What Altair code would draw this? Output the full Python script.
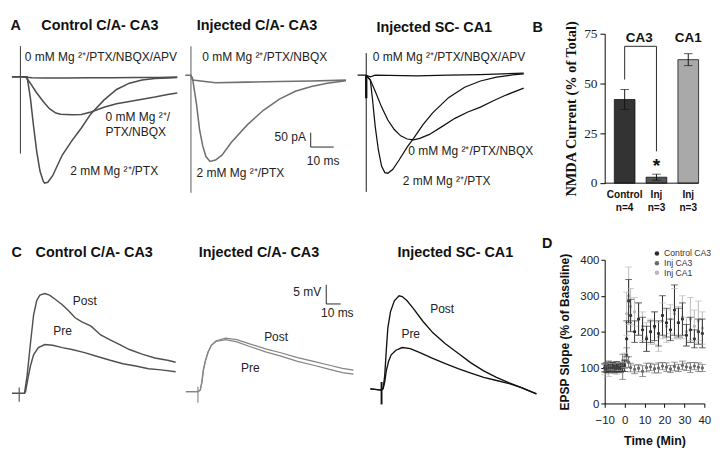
import altair as alt
import pandas as pd

SANS = "'Liberation Sans', Arial, sans-serif"
SERIF = "'Liberation Serif', 'Times New Roman', serif"

# ---------------- Panel A traces (time in ms, current in pA) ----------------
A1_2MG_T = [-3.7, 0, 2.9, 4.3, 5.7, 7.1, 8.5, 9.9, 10.5, 11.9, 14.0, 18.2, 22.4, 26.5, 30.7, 36.3, 41.8, 47.4, 52.9, 58.5, 64.0, 68.2]
A1_2MG_V = [0, 0, 0, -72, -172, -261, -328, -363, -370, -367, -344, -272, -222, -178, -128, -81, -44, -22, -11, -6, -4, -2]
A1_NBQX_T = [-3.7, 0, 2.2, 4.3, 7.1, 9.9, 12.6, 15.4, 17.5, 22.4, 26.5, 30.7, 36.3, 41.8, 47.4, 52.9, 58.5, 64.0, 68.2]
A1_NBQX_V = [0, 0, 0, -22, -56, -86, -111, -126, -130, -132, -131, -122, -106, -94, -86, -78, -70, -61, -56]
A1_APV_T = [-3.7, 0, 5, 10, 20, 30, 40, 50, 60, 68.2]
A1_APV_V = [0, 0, -3, -4, -4, -3, -3, -2, -2, -1]

A2_2MG_T = [-2.5, 0, 0.7, 2.4, 3.75, 5.1, 6.5, 8.3, 10.7, 13.5, 17.6, 24.6, 31.5, 38.5, 45.4, 52.4, 59.3, 67.4]
A2_2MG_V = [0, 0, -11, -100, -189, -245, -283, -300, -295, -278, -233, -172, -122, -83, -56, -39, -28, -19]
A2_NBQX_T = [0, 0.7, 10.7, 24.6, 38.5, 52.4, 67.4]
A2_NBQX_V = [0, -17, -26, -24, -22, -20, -17]

A3_2MG_T = [-3.75, 0, 1.8, 2.8, 3.9, 5.3, 6.7, 8.1, 9.4, 11.5, 14.3, 17.8, 20.6, 24.7, 28.9, 35.8, 42.8, 49.7, 56.7, 63.6, 68.5]
A3_2MG_V = [0, 0, -17, -89, -178, -261, -317, -339, -341, -328, -295, -250, -220, -172, -131, -78, -42, -20, -7, 1, 5]
A3_NBQX_T = [0, 1.8, 3.9, 6.7, 9.4, 12.2, 15, 17.8, 20.6, 23.3, 27.5, 33.1, 38.6, 44.2, 49.7, 55.3, 60.8, 68.5]
A3_NBQX_V = [0, -17, -56, -111, -156, -189, -211, -222, -225, -220, -206, -178, -150, -128, -111, -89, -69, -45]
A3_APV_T = [0, 1.8, 3.9, 22, 35.8, 49.7, 68.5]
A3_APV_V = [0, -6, 0, -2, 0, 2, 7]

# ---------------- Panel C traces (time in ms, potential in mV) ----------------
C1_POST_T = [-5, 3.7, 5.5, 7.8, 10, 12.2, 14.4, 17.8, 21.1, 25.5, 30, 34.4, 38.9, 43.3, 50, 56.7, 63.3, 70, 76.7, 85.5, 94.4, 103.3, 108.9]
C1_POST_V = [0, 0, 4.6, 12.9, 20.4, 24.2, 25.6, 26, 25.6, 24.4, 23.1, 21.5, 19.7, 18.7, 17.5, 15.2, 13.9, 12.7, 11.4, 10.2, 9.2, 8.6, 8.1]
C1_PRE_T = [3.7, 4.4, 6, 7.8, 10, 13.3, 17.8, 23.3, 30, 36.7, 45.5, 54.4, 63.3, 72.2, 81.1, 90, 98.9, 108.9]
C1_PRE_V = [0, 0.4, 3.7, 7.1, 10, 11.9, 12.7, 12.5, 11.9, 11.4, 10.6, 9.6, 8.6, 7.7, 7.1, 6.4, 6.1, 5.6]

C2_T = [-8.4, 0, 1.6, 2.7, 3.8, 5.3, 7.1, 9.3, 12.7, 19.3, 27.1, 36, 47.1, 58.3, 69.3, 80.5, 91.6, 100.5, 108.3]
C2_PRE_V = [0, 0, 0.4, 2.5, 5.8, 8.3, 10.4, 12.1, 13.1, 13.6, 13.0, 11.8, 10.4, 9.2, 7.9, 6.9, 5.8, 5.0, 4.6]
C2_POST_V = [0, 0, 0.4, 2.3, 5.5, 8.1, 10.3, 12.1, 13.3, 14.0, 13.6, 12.5, 11.2, 10.1, 8.9, 7.9, 6.9, 6.1, 5.6]

C3_POST_T = [-7.8, 0, 1.1, 2.2, 3.3, 4.4, 6.2, 8.9, 12.2, 14.4, 17.8, 22.2, 28.9, 35.6, 44.4, 53.3, 62.2, 71.1, 80, 88.9, 97.8, 107.8]
C3_POST_V = [0.3, 0, 0.4, 3.75, 10.4, 16.25, 20.4, 23.3, 24.6, 24.4, 23.3, 21.25, 17.9, 15, 12.1, 9.6, 7.1, 5, 3.3, 1.9, 0.6, -1]
C3_PRE_T = [-7.8, 0, 1.1, 2.2, 3.3, 4.9, 6.7, 10, 14.4, 20, 26.7, 35.6, 44.4, 53.3, 62.2, 71.1, 80, 88.9, 97.8, 107.8]
C3_PRE_V = [0.3, 0, 0.4, 2.1, 5, 7.5, 9.2, 10.4, 11.1, 10.8, 9.75, 8.3, 6.9, 5.6, 4.4, 3.3, 2.5, 1.7, 0.6, -1]

# ---------------- Panel B: NMDA fraction ----------------
NMDA_CATS = ["Control", "Inj CA3", "Inj CA1"]
NMDA_VALUES = [42, 3, 62]
NMDA_SEM = [5, 1.5, 3]
NMDA_LABELS = ["Control", "Inj", "Inj"]
NMDA_N = ["n=4", "n=3", "n=3"]
BRACKET_CATS = ["Control", "Control", "Inj CA3", "Inj CA3"]
BRACKET_Y = [52, 68.7, 68.7, 16]
GROUP_LABEL_Y = 72.6
STAR_Y = 8.5

# ---------------- Panel D: EPSP slope time course ----------------
D_SERIES = ["Control CA3", "Inj CA3", "Inj CA1"]
D_TIME = [-10, -9, -8, -7, -6, -5, -4, -3, -2, -1, 0, 1, 2, 3, 5, 7, 9, 11, 13, 15, 17, 19, 21, 23, 25, 27, 29, 31, 33, 35, 37, 39]
D_CTRL = [100, 96, 104, 99, 102, 97, 103, 98, 101, 100, 104, 180, 285, 245, 200, 235, 205, 180, 200, 215, 195, 245, 225, 205, 260, 225, 235, 190, 205, 180, 200, 195]
D_CTRL_ERR = [12, 10, 14, 10, 12, 10, 14, 10, 12, 10, 15, 50, 60, 45, 30, 45, 35, 35, 30, 40, 35, 55, 40, 30, 70, 40, 45, 30, 35, 25, 35, 40]
D_INJ3 = [98, 102, 95, 100, 103, 97, 101, 99, 96, 102, 110, 135, 115, 100, 95, 98, 90, 100, 102, 97, 99, 104, 101, 96, 103, 99, 106, 102, 100, 104, 101, 99]
D_INJ3_ERR = [10, 12, 10, 14, 10, 12, 10, 12, 10, 35, 12, 20, 15, 12, 12, 10, 15, 12, 10, 12, 14, 10, 12, 10, 12, 10, 12, 10, 14, 10, 12, 10]
D_INJ1 = [95, 100, 90, 105, 98, 102, 96, 104, 99, 101, 120, 250, 300, 270, 255, 235, 215, 185, 200, 210, 185, 230, 215, 235, 250, 225, 240, 200, 235, 215, 230, 210]
D_INJ1_ERR = [15, 12, 15, 12, 14, 12, 15, 12, 14, 12, 20, 60, 80, 50, 40, 45, 40, 40, 35, 45, 40, 50, 45, 40, 70, 45, 60, 40, 60, 45, 55, 45]

# styles
BAR_COLORS = ["#333333", "#555555", "#a9a9a9"]
D_COLORS = ["#2b2b2b", "#6b6b6b", "#b9b9b9"]
MG = "0 mM Mg \u00b2\u207a"
MG2 = "2 mM Mg \u00b2\u207a"


def trace_panel(w, h, x0, y0, ppm, ppu, traces, color, sw, stims, labels, titles,
                scalebar=None, label_size=12.5):
    xs = alt.Scale(domain=[-x0 / ppm, (w - x0) / ppm], nice=False, zero=False)
    ys = alt.Scale(domain=[(y0 - h) / ppu, y0 / ppu], nice=False, zero=False)
    X = alt.X("t:Q", scale=xs, axis=None)
    Y = alt.Y("v:Q", scale=ys, axis=None)
    rows = []
    for name, ts, vs in traces:
        for i, (t, v) in enumerate(zip(ts, vs)):
            rows.append({"trace": name, "i": i, "t": t, "v": v})
    layers = [alt.Chart(pd.DataFrame(rows)).mark_line(color=color, strokeWidth=sw).encode(
        X, Y, detail="trace:N", order="i:Q")]
    for (t, v1, v2), width in stims:
        layers.append(alt.Chart(pd.DataFrame({"t": [t], "v": [v1], "v2": [v2]}))
                      .mark_rule(color=color, strokeWidth=width)
                      .encode(X, Y, y2="v2:Q"))
    if scalebar is not None:
        t, v, dt, dv = scalebar
        layers.append(alt.Chart(pd.DataFrame({"t": [t], "v": [v], "v2": [v + dv]}))
                      .mark_rule(color="#222", strokeWidth=1).encode(X, Y, y2="v2:Q"))
        layers.append(alt.Chart(pd.DataFrame({"t": [t], "t2": [t + dt], "v": [v]}))
                      .mark_rule(color="#222", strokeWidth=1).encode(X, Y, x2="t2:Q"))
    for align in ["left", "center", "right"]:
        sub = [l for l in labels if l[3] == align]
        if not sub:
            continue
        df = pd.DataFrame({"text": [s[0] for s in sub], "t": [s[1] for s in sub], "v": [s[2] for s in sub]})
        layers.append(alt.Chart(df).mark_text(align=align, baseline="middle", font=SANS,
                                              fontSize=label_size, color="#222")
                      .encode(X, Y, text="text:N"))
    for text, px, py, align in titles:
        layers.append(alt.Chart(pd.DataFrame({"text": [text]}))
                      .mark_text(align=align, baseline="middle", font=SANS, fontSize=15,
                                 fontWeight="bold", color="#111")
                      .encode(x=alt.value(px), y=alt.value(py), text="text:N"))
    return alt.layer(*layers).properties(width=w, height=h)


H1 = 173
H2 = 150

A1 = trace_panel(
    181, H1, 9, 62, 2.4, 0.3,
    [("apv", A1_APV_T, A1_APV_V), ("nbqx", A1_NBQX_T, A1_NBQX_V), ("mg", A1_2MG_T, A1_2MG_V)],
    "#4d4d4d", 1.6, [((0, 107, -267), 1.2)],
    [(MG + "/PTX/NBQX/APV", 35, 67, "center"), (MG + "/", 37, -141, "left"),
     ("PTX/NBQX", 37, -194, "left"), (MG2 + "/PTX", 21.7, -328, "left")],
    [("A", 4, 8, "center"), ("Control C/A- CA3", 92, 8, "center")])

A2 = trace_panel(
    175, H1, 6, 60.3, 2.4, 0.3,
    [("nbqx", A2_NBQX_T, A2_NBQX_V), ("mg", A2_2MG_T, A2_2MG_V)],
    "#707070", 1.6, [((0, 101, -409), 1.2)],
    [(MG + "/PTX/NBQX", 32.1, 63, "center"), (MG2 + "/PTX", 21.5, -341, "center"),
     ("50 pA", 50, -215, "right"), ("10 ms", 57.5, -300, "center")],
    [("Injected C/A- CA3", 75, 8, "center")],
    scalebar=(52.1, -250, 10, 50))

A3 = trace_panel(
    249, H1, 14, 60.3, 2.4, 0.3,
    [("apv", A3_APV_T, A3_APV_V), ("nbqx", A3_NBQX_T, A3_NBQX_V), ("mg", A3_2MG_T, A3_2MG_V)],
    "#111111", 1.3, [((0, 77, -406), 1.0), ((0, 0, -80), 2.5)],
    [(MG + "/PTX/NBQX/APV", 36, 63, "center"), (MG + "/PTX/NBQX", 45.5, -265, "center"),
     (MG2 + "/PTX", 35, -367, "center")],
    [("Injected SC- CA1", 85, 10, "center"), ("B", 193, 10, "center")])

C1 = trace_panel(
    172, H2, 7.7, 139.3, 1.5, 4.0,
    [("post", C1_POST_T, C1_POST_V), ("pre", C1_PRE_T, C1_PRE_V)],
    "#505050", 1.5, [((0, 1.5, -2.2), 1.2)],
    [("Post", 45.6, 23.9, "center"), ("Pre", 30.2, 16.25, "center")],
    [("C", 5, -8, "center"), ("Control C/A- CA3", 86, -8, "center")])

C2 = trace_panel(
    164, H2, 13.3, 137.7, 1.5, 4.0,
    [("post", C2_T, C2_POST_V), ("pre", C2_T, C2_PRE_V)],
    "#858585", 1.3, [((0, 1.3, -2.9), 1.2)],
    [("Post", 54.4, 14.2, "center"), ("Pre", 36.5, 6.25, "center"),
     ("5 mV", 85.8, 25.9, "right"), ("10 ms", 97, 20.4, "center")],
    [("Injected C/A- CA3", 77, -8, "center")],
    scalebar=(89.3, 22.9, 10, 5))

C3 = trace_panel(
    263, H2, 30, 136, 1.5, 4.0,
    [("post", C3_POST_T, C3_POST_V), ("pre", C3_PRE_T, C3_PRE_V)],
    "#111111", 1.4, [((0, 2.1, -3.75), 2.0)],
    [("Post", 42.2, 21.1, "center"), ("Pre", 20.3, 14.6, "center")],
    [("Injected SC- CA1", 107, -8, "center"), ("D", 203, -17, "center")])

# ---------------- Panel B ----------------
b_df = pd.DataFrame({"cat": NMDA_CATS, "val": NMDA_VALUES, "sem": NMDA_SEM,
                     "lab": NMDA_LABELS, "n": NMDA_N})
xs_b = alt.Scale(domain=NMDA_CATS, paddingInner=0.35, paddingOuter=0.151, align=1)
XB = alt.X("cat:N", scale=xs_b, axis=None)
ys_b = alt.Scale(domain=[0, 75], range=[H1, 17], nice=False, zero=False)
yaxis_b = alt.Axis(values=[0, 25, 50, 75], title="NMDA Current (% of Total)", grid=False,
                   domainColor="black", tickColor="black", tickSize=5, labelPadding=3,
                   labelFont=SERIF, labelFontSize=14, labelColor="#222",
                   titleFont=SERIF, titleFontSize=15, titleFontWeight="bold", titleColor="#111",
                   titlePadding=5)
YB = alt.Y("val:Q", scale=ys_b, axis=yaxis_b)
bbase = alt.Chart(b_df).transform_calculate(lo="datum.val - datum.sem", hi="datum.val + datum.sem")
bars = bbase.mark_bar(stroke="#111", strokeWidth=0.8).encode(
    XB, YB, color=alt.Color("cat:N", scale=alt.Scale(domain=NMDA_CATS, range=BAR_COLORS), legend=None))
b_err = bbase.mark_rule(color="#111", strokeWidth=1).encode(
    XB, alt.Y("lo:Q", scale=ys_b, axis=yaxis_b), y2="hi:Q")
b_cap_lo = bbase.mark_tick(orient="horizontal", size=9, thickness=1, color="#111").encode(
    XB, alt.Y("lo:Q", scale=ys_b, axis=yaxis_b))
b_cap_hi = bbase.mark_tick(orient="horizontal", size=9, thickness=1, color="#111").encode(
    XB, alt.Y("hi:Q", scale=ys_b, axis=yaxis_b))
b_base = alt.Chart(pd.DataFrame({"z": [0]})).mark_rule(color="#111", strokeWidth=1).encode(
    y=alt.Y("z:Q", scale=ys_b, axis=yaxis_b))
br_df = pd.DataFrame({"cat": BRACKET_CATS, "y": BRACKET_Y, "i": list(range(len(BRACKET_Y)))})
bracket = alt.Chart(br_df).mark_line(color="#222", strokeWidth=1).encode(
    XB, alt.Y("y:Q", scale=ys_b, axis=yaxis_b), order="i:Q")
grp_df = pd.DataFrame({"cat": ["Inj CA3", "Inj CA1"], "text": ["CA3", "CA1"], "y": [GROUP_LABEL_Y] * 2})
grp_ca3 = alt.Chart(grp_df.iloc[:1]).mark_text(font=SANS, fontSize=14, fontWeight="bold",
                                               color="#111", dx=-18, baseline="middle").encode(
    XB, alt.Y("y:Q", scale=ys_b, axis=yaxis_b), text="text:N")
grp_ca1 = alt.Chart(grp_df.iloc[1:]).mark_text(font=SANS, fontSize=14, fontWeight="bold",
                                               color="#111", baseline="middle").encode(
    XB, alt.Y("y:Q", scale=ys_b, axis=yaxis_b), text="text:N")
star = alt.Chart(pd.DataFrame({"cat": ["Inj CA3"], "y": [STAR_Y], "text": ["*"]})).mark_text(
    font=SANS, fontSize=20, fontWeight="bold", color="#111", baseline="middle").encode(
    XB, alt.Y("y:Q", scale=ys_b, axis=yaxis_b), text="text:N")
lab1 = bbase.mark_text(font=SANS, fontSize=10.5, fontWeight="bold", color="#111").encode(
    XB, y=alt.value(H1 + 12), text="lab:N")
lab2 = bbase.mark_text(font=SANS, fontSize=10.5, fontWeight="bold", color="#111").encode(
    XB, y=alt.value(H1 + 26), text="n:N")
B = alt.layer(bars, b_err, b_cap_lo, b_cap_hi, b_base, bracket, grp_ca3, grp_ca1, star,
              lab1, lab2).properties(width=98, height=H1)

# ---------------- Panel D ----------------
d_rows = []
for s, means, errs in [("Inj CA1", D_INJ1, D_INJ1_ERR), ("Inj CA3", D_INJ3, D_INJ3_ERR),
                       ("Control CA3", D_CTRL, D_CTRL_ERR)]:
    for t, m, e in zip(D_TIME, means, errs):
        d_rows.append({"series": s, "time": t, "mean": m, "err": e})
d_df = pd.DataFrame(d_rows)
dbase = alt.Chart(d_df).transform_calculate(lo="datum.mean - datum.err", hi="datum.mean + datum.err")
xaxis_d = alt.Axis(values=[-10, 0, 10, 20, 30, 40], title="Time (Min)", grid=False,
                   domainColor="black", tickColor="black", tickSize=4, labelPadding=8,
                   labelOverlap=False, labelFlush=False,
                   labelFont=SANS, labelFontSize=12, labelColor="#222",
                   titleFont=SANS, titleFontSize=13, titleFontWeight="bold", titleColor="#111",
                   titlePadding=10)
yaxis_d = alt.Axis(values=[0, 100, 200, 300, 400], title="EPSP Slope (% of Baseline)", grid=False,
                   domainColor="black", tickColor="black", tickSize=4, labelPadding=2,
                   labelOverlap=False, labelFlush=False,
                   labelFont=SANS, labelFontSize=12, labelColor="#222",
                   titleFont=SANS, titleFontSize=12.5, titleFontWeight="bold", titleColor="#111",
                   titlePadding=9)
xs_d = alt.Scale(domain=[-10, 40], nice=False, zero=False)
ys_d = alt.Scale(domain=[0, 400], nice=False)
XD = alt.X("time:Q", scale=xs_d, axis=xaxis_d)
cs_d = alt.Scale(domain=D_SERIES, range=D_COLORS)
leg_d = alt.Legend(orient="none", legendX=50, legendY=-11, title=None,
                   labelFont=SANS, labelFontSize=9, labelColor="#333",
                   symbolType="circle", symbolSize=22, rowPadding=0,
                   padding=0, labelOffset=3, symbolStrokeWidth=0)
COL = alt.Color("series:N", scale=cs_d, legend=leg_d)
d_pts = dbase.mark_circle(size=12, opacity=1).encode(
    XD, alt.Y("mean:Q", scale=ys_d, axis=yaxis_d), color=COL)
d_err = dbase.mark_rule(strokeWidth=1).encode(
    XD, alt.Y("lo:Q", scale=ys_d, axis=yaxis_d), y2="hi:Q", color=COL)
d_cap_lo = dbase.mark_tick(orient="horizontal", size=7, thickness=1).encode(
    XD, alt.Y("lo:Q", scale=ys_d, axis=yaxis_d), color=COL)
d_cap_hi = dbase.mark_tick(orient="horizontal", size=7, thickness=1).encode(
    XD, alt.Y("hi:Q", scale=ys_d, axis=yaxis_d), color=COL)
D = alt.layer(d_pts, d_err, d_cap_lo, d_cap_hi).properties(width=104, height=H2)

chart = alt.concat(A1, A2, A3, B, C1, C2, C3, D, columns=4,
                   spacing={"row": 80, "column": 0}, bounds="flush", align="none") \
    .resolve_scale(color="independent") \
    .properties(padding=0) \
    .configure(background="white") \
    .configure_view(stroke=None)

chart.save("out.html", embed_options={"renderer": "svg", "actions": False})
